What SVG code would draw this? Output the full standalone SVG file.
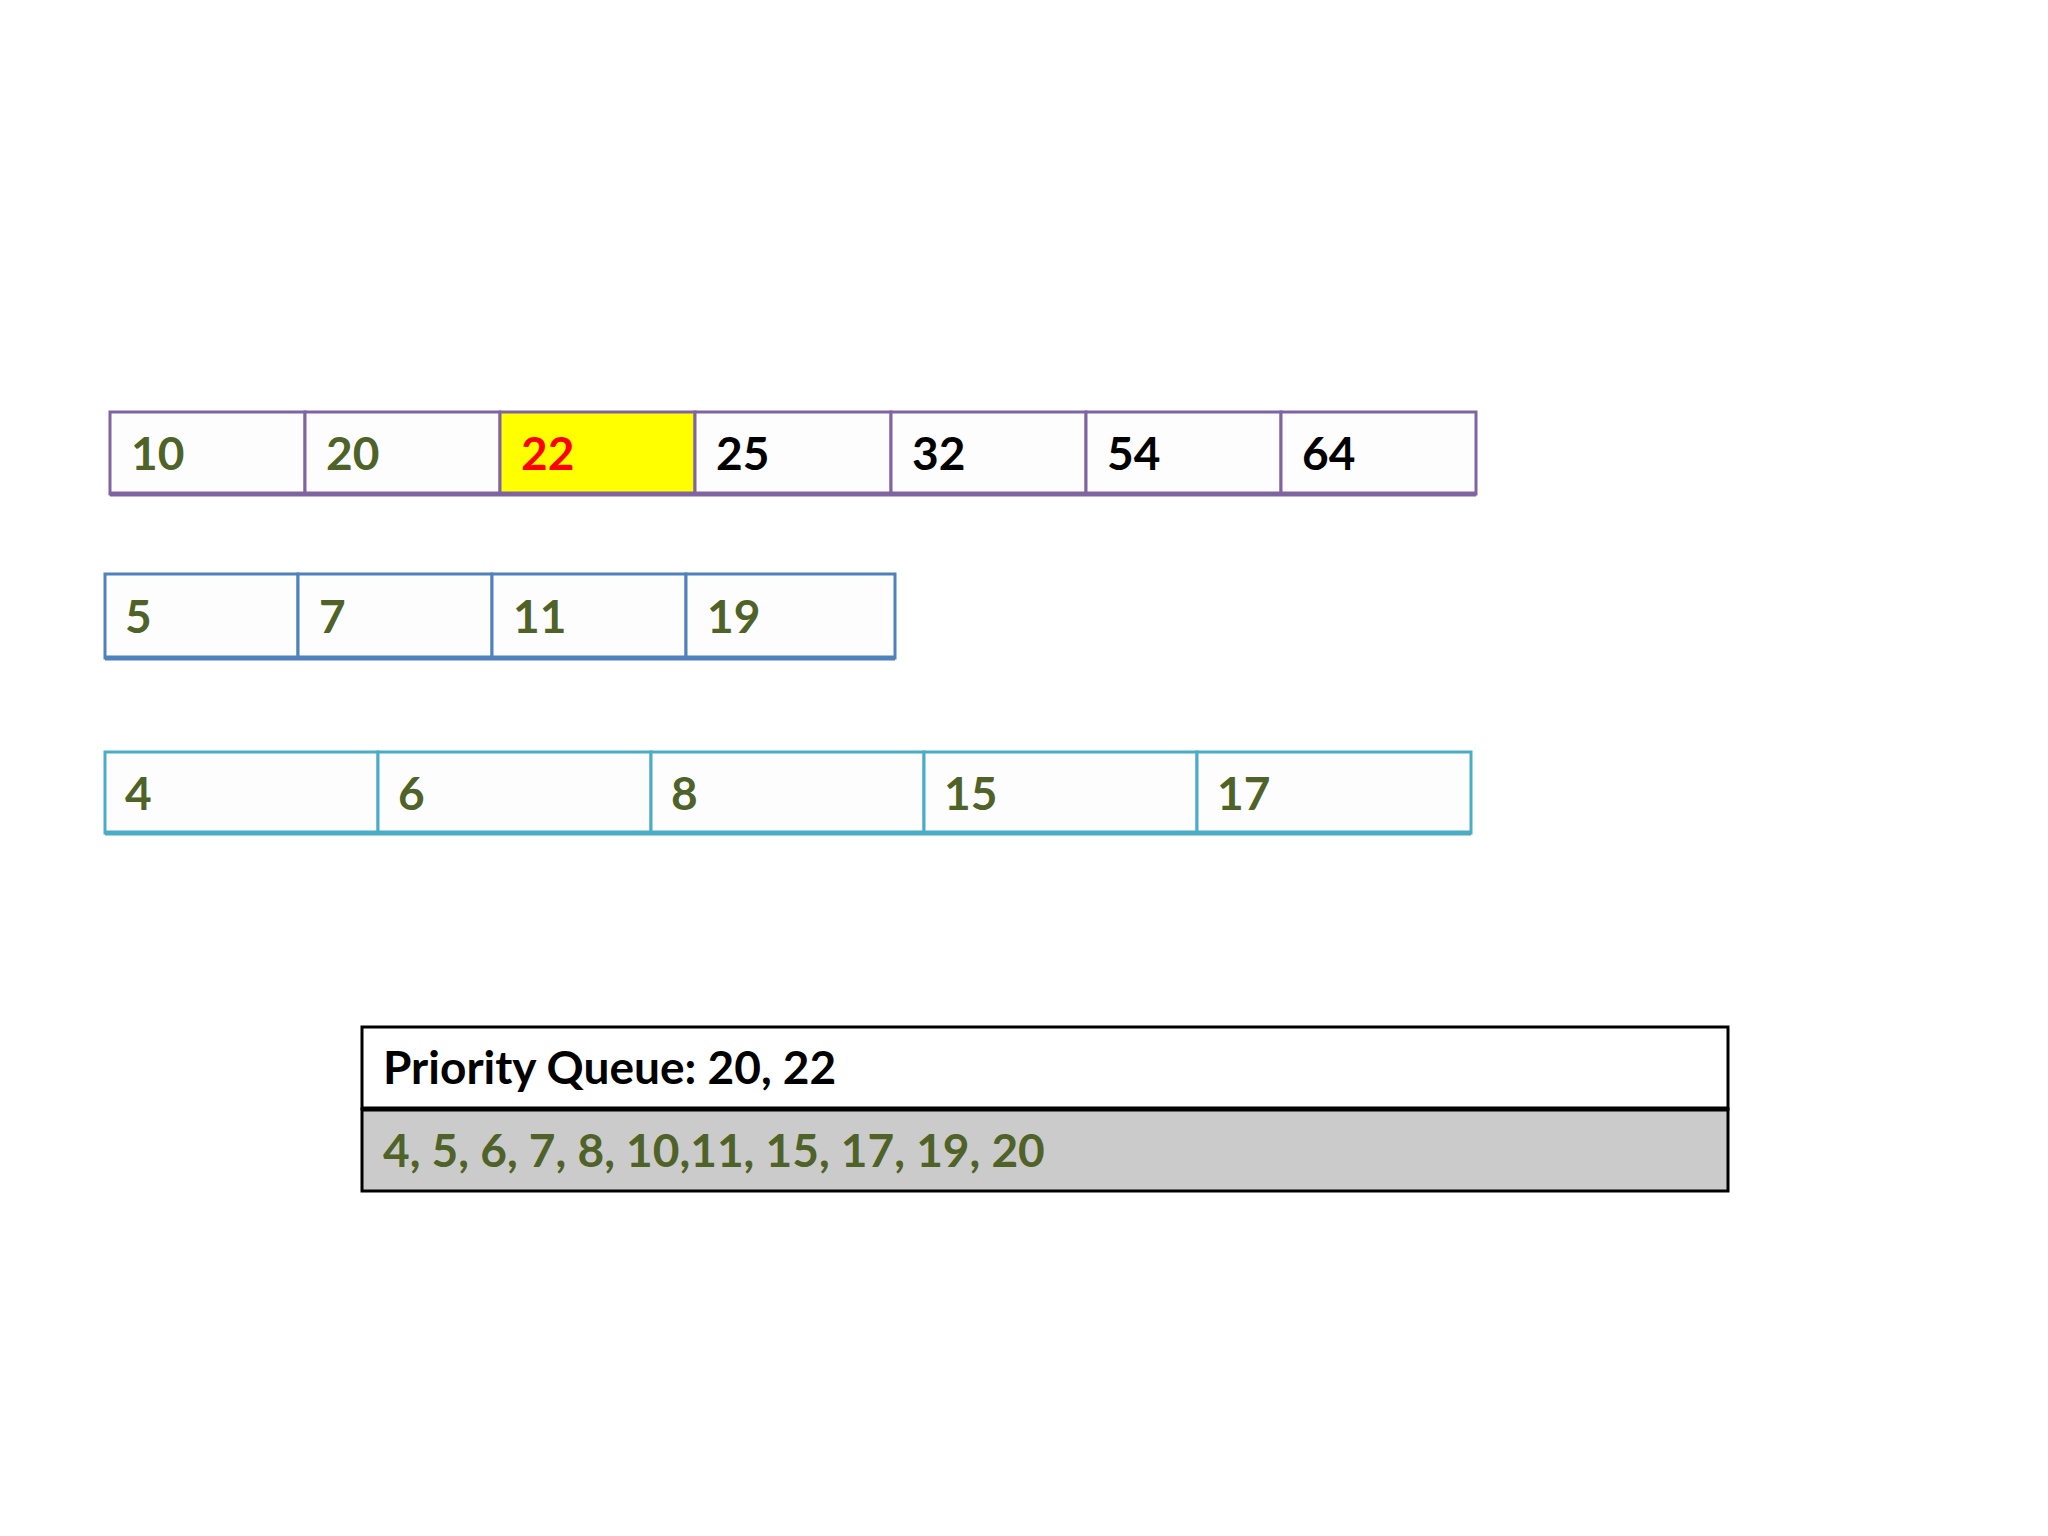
<svg xmlns="http://www.w3.org/2000/svg" width="2048" height="1536" viewBox="0 0 2048 1536">
<style>
text{font-family:Lato,"Open Sans","Liberation Sans",sans-serif;font-weight:bold;font-size:46px;fill:#4F6228}
.k{fill:#000}
.r1{fill:#fdfdfd;stroke:#8064A2;stroke-width:3}
.r2{fill:#fdfdfd;stroke:#4F81BD;stroke-width:3}
.r3{fill:#fdfdfd;stroke:#4BACC6;stroke-width:3}
</style>
<rect width="2048" height="1536" fill="#fff"/>
<g id="row1">
<rect class="r1" x="110" y="412" width="195" height="82"/><text x="131" y="470">10</text>
<rect class="r1" x="305" y="412" width="195" height="82"/><text x="326" y="470">20</text>
<rect class="r1" x="500" y="412" width="195" height="82" style="fill:#ffff00"/><text x="521" y="470" style="fill:#ff0000">22</text>
<rect class="r1" x="695" y="412" width="196" height="82"/><text class="k" x="716" y="470">25</text>
<rect class="r1" x="891" y="412" width="195" height="82"/><text class="k" x="912" y="470">32</text>
<rect class="r1" x="1086" y="412" width="195" height="82"/><text class="k" x="1107" y="470">54</text>
<rect class="r1" x="1281" y="412" width="195" height="82"/><text class="k" x="1302" y="470">64</text>
<line x1="110" y1="494" x2="1476" y2="494" stroke="#8064A2" stroke-width="5"/>
</g>
<g id="row2">
<rect class="r2" x="105" y="574" width="193" height="84"/><text x="125" y="633">5</text>
<rect class="r2" x="298" y="574" width="194" height="84"/><text x="319" y="633">7</text>
<rect class="r2" x="492" y="574" width="194" height="84"/><text x="513" y="633">11</text>
<rect class="r2" x="686" y="574" width="209" height="84"/><text x="707" y="633">19</text>
<line x1="105" y1="658" x2="895" y2="658" stroke="#4F81BD" stroke-width="5"/>
</g>
<g id="row3">
<rect class="r3" x="105" y="752" width="273" height="81"/><text x="125" y="810">4</text>
<rect class="r3" x="378" y="752" width="273" height="81"/><text x="398" y="810">6</text>
<rect class="r3" x="651" y="752" width="273" height="81"/><text x="671" y="810">8</text>
<rect class="r3" x="924" y="752" width="273" height="81"/><text x="944" y="810">15</text>
<rect class="r3" x="1197" y="752" width="274" height="81"/><text x="1217" y="810">17</text>
<line x1="105" y1="833" x2="1471" y2="833" stroke="#4BACC6" stroke-width="5"/>
</g>
<g id="queue">
<rect x="362" y="1027" width="1366" height="82" fill="#fff" stroke="#000" stroke-width="3"/>
<rect x="362" y="1109" width="1366" height="82" fill="#cbcbcb" stroke="#000" stroke-width="3"/>
<line x1="362" y1="1109" x2="1728" y2="1109" stroke="#000" stroke-width="5"/>
<text class="k" x="383" y="1084">Priority Queue: 20, 22</text>
<text x="383" y="1167">4, 5, 6, 7, 8, 10,11, 15, 17, 19, 20</text>
</g>
<g id="connectors"/>
</svg>
